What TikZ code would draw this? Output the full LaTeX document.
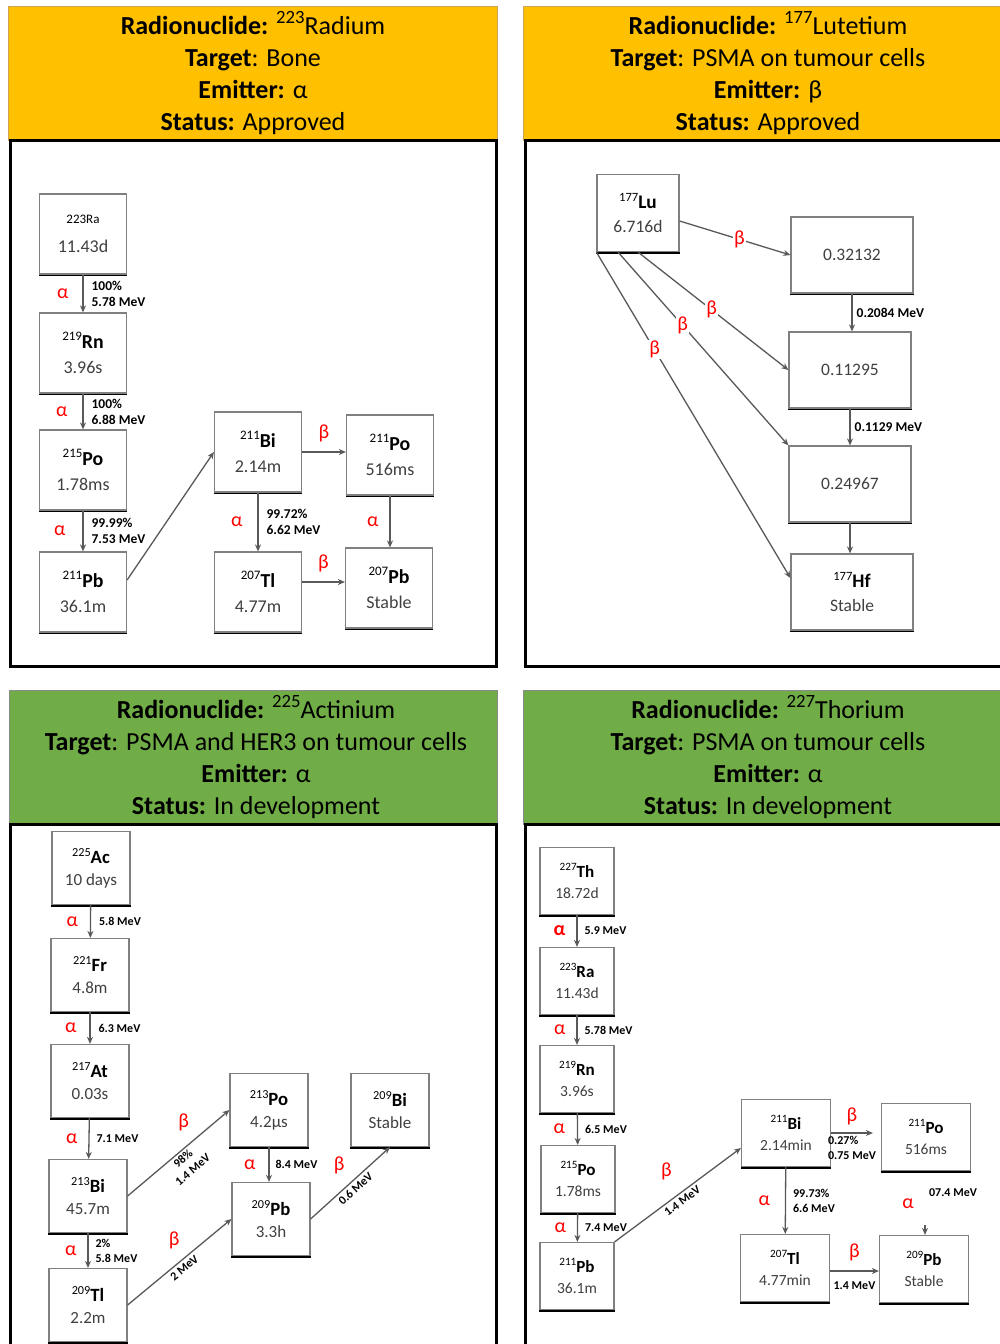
\documentclass[tikz,border=0pt]{standalone}
\usepackage{fontspec}
\setmainfont{Carlito}
\usetikzlibrary{arrows.meta}

\definecolor{hdrorange}{HTML}{FFC000}
\definecolor{hdrgreen}{HTML}{70AD47}
\definecolor{hdrtan}{HTML}{C9A45A}
\definecolor{hdrgray}{HTML}{8A8A8A}
\definecolor{boxgray}{HTML}{808080}
\definecolor{linegray}{HTML}{595959}
\definecolor{lifegray}{HTML}{404040}

\newcommand{\sups}[1]{\raisebox{0.42em}{\scalebox{0.72}{#1}}}
\newcommand{\iso}[2]{\sups{#1}\textbf{\scalebox{1.1}{#2}}}
\newcommand{\life}[1]{\textcolor{lifegray}{#1}}

\tikzset{
    nucbox/.style 2 args={draw=boxgray, line width=1.2pt, fill=white, align=center, inner sep=1pt,
        minimum width=#1, minimum height=#2,
        append after command={\pgfextra{\draw[line width=3pt] (\tikzlastnode.south west) -- (\tikzlastnode.south east);}}},
    bigbox/.style={nucbox={87}{80}, font=\fontsize{18}{25}\selectfont},
    lubox/.style={nucbox={82}{77}, font=\fontsize{17.5}{24}\selectfont},
    levelbox/.style={nucbox={122}{76}, font=\fontsize{17.5}{24}\selectfont},
    midbox/.style={nucbox={78}{73}, font=\fontsize{17}{22}\selectfont},
    smallbox/.style={nucbox={74}{67}, font=\fontsize{15.5}{21}\selectfont},
    widebox/.style={nucbox={89}{67}, font=\fontsize{15.5}{21}\selectfont},
    decay/.style={draw=linegray, line width=1.3pt, -{Stealth[length=7pt,width=6pt]}},
    ray/.style={text=red, font=\fontsize{20}{20}\selectfont, inner sep=1pt},
    mev/.style={font=\bfseries\fontsize{12}{15}\selectfont, align=left, inner sep=0pt},
    bigmev/.style={mev, font=\bfseries\fontsize{13.5}{16}\selectfont},
    hdrtext/.style={align=center, font=\fontsize{26}{32}\selectfont},
}

\begin{document}
\begin{tikzpicture}[x=1pt, y=-1pt]
        \useasboundingbox (0,0) rectangle (1000,1344);
        \clip (0,0) rectangle (1000,1344);
        \fill[white] (0,0) rectangle (1000,1344);

        \draw[hdrtan, fill=hdrorange] (8,6) rectangle (497,140);
        \draw[hdrtan, fill=hdrorange] (523,6) rectangle (1013,140);
        \draw[hdrgray, fill=hdrgreen] (9,690) rectangle (497,824);
        \draw[hdrgray, fill=hdrgreen] (523,690) rectangle (1013,824);
        \draw[line width=3pt] (10,140) rectangle (496,666);
        \draw[line width=3pt] (525,140) rectangle (1013,666);
        \draw[line width=3pt] (10,824) rectangle (496,1360);
        \draw[line width=3pt] (525,824) rectangle (1013,1360);

        \node[hdrtext] (h1) at (253,73) {\textbf{Radionuclide:} \sups{223}Radium\\\textbf{Target}: Bone\\\textbf{Emitter:} α\\\textbf{Status:} Approved};
        \node[hdrtext] (h2) at (768,73) {\textbf{Radionuclide:} \sups{177}Lutetium\\\textbf{Target}: PSMA on tumour cells\\\textbf{Emitter:} β\\\textbf{Status:} Approved};
        \node[hdrtext] (h3) at (256,757) {\textbf{Radionuclide:} \sups{225}Actinium\\\textbf{Target}: PSMA and HER3 on tumour cells\\\textbf{Emitter:} α\\\textbf{Status:} In development};
        \node[hdrtext] (h4) at (768,757) {\textbf{Radionuclide:} \sups{227}Thorium\\\textbf{Target}: PSMA on tumour cells\\\textbf{Emitter:} α\\\textbf{Status:} In development};

        \node[bigbox] (p1ra) at (83,234) {{\fontsize{13}{13}\selectfont 223Ra}\\[4pt]\life{11.43d}};
        \node[bigbox] (p1rn) at (83,353) {\iso{219}{Rn}\\\life{3.96s}};
        \node[bigbox] (p1po) at (83,470) {\iso{215}{Po}\\\life{1.78ms}};
        \node[bigbox] (p1pb) at (83,592) {\iso{211}{Pb}\\\life{36.1m}};
        \node[bigbox] (p1bi) at (258,452) {\iso{211}{Bi}\\\life{2.14m}};
        \node[bigbox] (p1po2) at (390,455) {\iso{211}{Po}\\\life{516ms}};
        \node[bigbox] (p1tl) at (258,592) {\iso{207}{Tl}\\\life{4.77m}};
        \node[bigbox] (p1pb2) at (389,588) {\iso{207}{Pb}\\\life{Stable}};

        \draw[decay] (p1ra) -- node[ray, left=13pt] (p1a1) {α} node[bigmev, right=8pt] (p1e1) {100\%\\5.78 MeV} (p1rn);
        \draw[decay] (p1rn) -- node[ray, left=14pt] (p1a2) {α} node[bigmev, right=8pt] (p1e2) {100\%\\6.88 MeV} (p1po);
        \draw[decay] (p1po) -- node[ray, left=16pt] (p1a3) {α} node[bigmev, right=8pt] (p1e3) {99.99\%\\7.53 MeV} (p1pb);
        \draw[decay] ([yshift=12pt]p1pb.east) -- (p1bi.west);
        \draw[decay] (p1bi.east) -- node[ray, above=8pt] (p1b1) {β} (p1bi.east -| p1po2.west);
        \draw[decay] (p1bi) -- node[ray, left=14pt] (p1a4) {α} node[bigmev, right=8pt] (p1e4) {99.72\%\\6.62 MeV} (p1tl);
        \draw[decay] (p1po2.south) -- node[ray, left=10pt] (p1a5) {α} (p1po2.south |- p1pb2.north);
        \draw[decay] ([yshift=10pt]p1tl.east) -- node[ray, above=8pt] (p1b2) {β} ([yshift=10pt]p1tl.east -| p1pb2.west);

        \node[lubox] (p2lu) at (638,213) {\iso{177}{Lu}\\\life{6.716d}};
        \node[levelbox] (p2l1) at (852,255) {\life{0.32132}};
        \node[levelbox] (p2l2) at (850,370) {\life{0.11295}};
        \node[levelbox] (p2l3) at (850,484) {\life{0.24967}};
        \node[levelbox] (p2hf) at (852,592) {\iso{177}{Hf}\\\life{Stable}};

        \draw[decay] ([yshift=-8pt]p2lu.east) -- node[ray, fill=white, pos=0.54] (p2b1) {β} (p2l1.west);
        \draw[decay] (p2lu.south) -- node[ray, fill=white, pos=0.49] (p2b2) {β} (p2l2.west);
        \draw[decay] ([xshift=-20pt]p2lu.south) -- node[ray, fill=white, pos=0.38] (p2b3) {β} (p2l3.north west);
        \draw[decay] (p2lu.south west) -- node[ray, fill=white, pos=0.3] (p2b4) {β} ([yshift=14pt]p2hf.west);
        \draw[decay] (p2l1.south) -- node[bigmev, right=4pt] (p2e1) {0.2084 MeV} (p2l1.south |- p2l2.north);
        \draw[decay] (p2l2.south) -- node[bigmev, right=4pt] (p2e2) {0.1129 MeV} (p2l2.south |- p2l3.north);
        \draw[decay] (p2l3.south) -- (p2l3.south |- p2hf.north);

        \node[midbox] (p3ac) at (91,868) {\iso{225}{Ac}\\\life{10 days}};
        \node[midbox] (p3fr) at (90,975) {\iso{221}{Fr}\\\life{4.8m}};
        \node[midbox] (p3at) at (90,1081) {\iso{217}{At}\\\life{0.03s}};
        \node[midbox] (p3bi) at (88,1196) {\iso{213}{Bi}\\\life{45.7m}};
        \node[midbox] (p3tl) at (88,1305) {\iso{209}{Tl}\\\life{2.2m}};
        \node[midbox] (p3po) at (269,1110) {\iso{213}{Po}\\\life{4.2µs}};
        \node[midbox] (p3bi2) at (390,1110) {\iso{209}{Bi}\\\life{Stable}};
        \node[midbox] (p3pb) at (271,1219) {\iso{209}{Pb}\\\life{3.3h}};

        \draw[decay] (p3ac) -- node[ray, left=11pt] (p3a1) {α} node[mev, right=8pt] (p3e1) {5.8 MeV} (p3fr);
        \draw[decay] (p3fr) -- node[ray, left=12pt] (p3a2) {α} node[mev, right=8pt] (p3e2) {6.3 MeV} (p3at);
        \draw[decay] (p3at) -- node[ray, left=10pt] (p3a3) {α} node[mev, right=7pt] (p3e3) {7.1 MeV} (p3bi);
        \draw[decay] (p3bi) -- node[ray, left=10pt] (p3a4) {α} node[mev, right=7pt] (p3e4) {2\%\\5.8 MeV} (p3tl);
        \draw[decay] (p3bi.east) -- node[ray, pos=0.55, above=16pt] (p3b1) {β} node[mev, sloped, below=2pt, align=center] (p3e5) {98\%\\1.4 MeV} (p3po.west);
        \draw[decay] (p3po.south) -- node[ray, left=12pt] (p3a5) {α} node[mev, right=6pt] (p3e6) {8.4 MeV} (p3po.south |- p3pb.north);
        \draw[decay] (p3tl.east) -- node[ray, pos=0.45, above=16pt] (p3b2) {β} node[mev, sloped, below=3pt] (p3e7) {2 MeV} (p3pb.west);
        \draw[decay] (p3pb.east) -- node[ray, pos=0.36, above=18pt] (p3b3) {β} node[mev, sloped, below=3pt] (p3e8) {0.6 MeV} (p3bi2.south);

        \node[smallbox] (p4th) at (577,881) {\iso{227}{Th}\\\life{18.72d}};
        \node[smallbox] (p4ra) at (577,981) {\iso{223}{Ra}\\\life{11.43d}};
        \node[smallbox] (p4rn) at (577,1079) {\iso{219}{Rn}\\\life{3.96s}};
        \node[smallbox] (p4po) at (578,1179) {\iso{215}{Po}\\\life{1.78ms}};
        \node[smallbox] (p4pb) at (577,1276) {\iso{211}{Pb}\\\life{36.1m}};
        \node[widebox] (p4bi) at (786,1133) {\iso{211}{Bi}\\\life{2.14min}};
        \node[widebox] (p4po2) at (926,1137) {\iso{211}{Po}\\\life{516ms}};
        \node[widebox] (p4tl) at (785,1268) {\iso{207}{Tl}\\\life{4.77min}};
        \node[widebox] (p4pb2) at (924,1269) {\iso{209}{Pb}\\\life{Stable}};

        \draw[decay] (p4th) -- node[ray, left=10pt, font=\fontsize{20}{20}\selectfont\bfseries] (p4a1) {α} node[mev, right=7pt] (p4e1) {5.9 MeV} (p4ra);
        \draw[decay] (p4ra) -- node[ray, left=10pt] (p4a2) {α} node[mev, right=7pt] (p4e2) {5.78 MeV} (p4rn);
        \draw[decay] (p4rn) -- node[ray, left=11pt] (p4a3) {α} node[mev, right=7pt] (p4e3) {6.5 MeV} (p4po);
        \draw[decay] (p4po) -- node[ray, left=10pt] (p4a4) {α} node[mev, right=7pt] (p4e4) {7.4 MeV} (p4pb);
        \draw[decay] (p4pb.north east) -- node[ray, pos=0.41, above=22pt] (p4b1) {β} node[mev, sloped, below=3pt] (p4e5) {1.4 MeV} ([yshift=-15pt]p4bi.west);
        \draw[decay] (p4bi.east) -- node[ray, above=6pt] (p4b2) {β} node[mev, below=3pt] (p4e6) {0.27\%\\0.75 MeV} ([xshift=-8pt]p4bi.east -| p4po2.west);
        \draw[decay] (p4bi) -- node[ray, left=14pt] (p4a5) {α} node[mev, right=7pt] (p4e7) {99.73\%\\6.6 MeV} (p4tl);
        \coordinate (p4tip) at (925,1225);
        \draw[decay] (p4tip) -- (p4tip |- p4pb2.north);
        \node[ray] (p4a6) at (908,1204) {α};
        \node[mev] (p4e8) at (953,1193) {07.4 MeV};
        \draw[decay] ([yshift=-3pt]p4tl.east) -- node[ray, above=8pt] (p4b3) {β} node[mev, below=10pt] (p4e9) {1.4 MeV} ([yshift=-3pt]p4tl.east -| p4pb2.west);
    \end{tikzpicture}
\end{document}
